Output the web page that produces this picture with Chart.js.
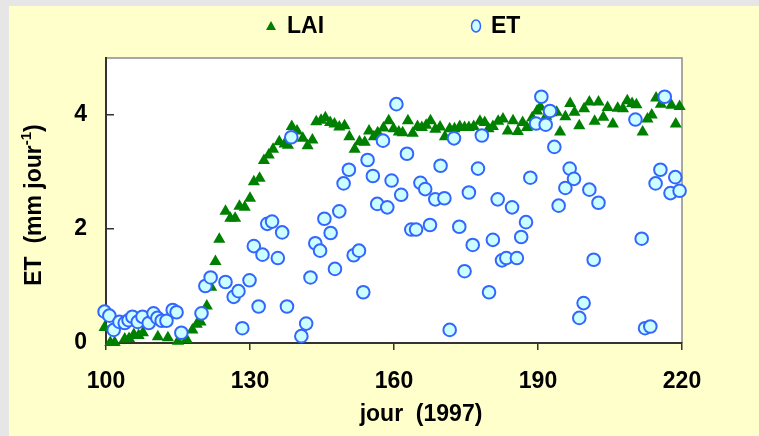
<!DOCTYPE html>
<html>
<head>
<meta charset="utf-8">
<script src="https://cdn.jsdelivr.net/npm/chart.js@4.4.1/dist/chart.umd.min.js"></script>
<style>
  html, body { margin: 0; padding: 0; background: #e6e6e6; }
  #box { position: absolute; left: 9px; top: 6px; width: 750px; height: 430px; background: #ffffcc; }
</style>
</head>
<body>
<div id="box"><canvas id="etChart"></canvas></div>
<script>
// jour (1997) et valeurs
const laiDays = [99.7, 100.9, 101.8, 103.9, 104.8, 105.8, 106.8, 107.7, 110.8, 112.9,
  115.0, 116.8, 118.0, 118.9, 119.7, 121.0, 121.9, 122.8, 123.6, 124.9,
  125.9, 126.9, 127.8, 128.9, 130.0, 130.8, 132.0, 132.9, 133.9, 134.8,
  136.1, 137.2, 137.9, 138.7, 139.8, 141.0, 142.0, 143.0, 143.8, 144.8,
  145.7, 146.7, 147.6, 148.6, 149.7, 150.7, 151.8, 152.8, 153.9, 154.8,
  155.8, 156.6, 157.8, 158.9, 159.9, 161.0, 161.8, 162.9, 163.9, 164.9,
  165.8, 166.7, 167.6, 168.6, 169.6, 170.6, 171.6, 172.6, 173.7, 174.7,
  175.6, 176.6, 177.9, 178.9, 179.7, 180.6, 181.7, 182.7, 183.7, 184.8,
  185.8, 186.8, 187.7, 188.8, 189.8, 190.5, 191.7, 192.8, 193.9, 194.6,
  195.7, 196.7, 197.6, 198.6, 199.6, 200.7, 201.8, 202.6, 203.6, 204.5,
  205.6, 206.6, 207.7, 208.6, 209.6, 210.5, 211.8, 212.8, 213.7, 214.6,
  215.6, 217.8, 218.7, 219.5];
const laiValues = [0.27, 0.01, 0.01, 0.07, 0.08, 0.15, 0.13, 0.18, 0.11, 0.09,
  0.03, 0.06, 0.23, 0.33, 0.37, 0.65, 0.98, 1.43, 1.82, 2.31,
  2.19, 2.19, 2.40, 2.38, 2.54, 2.83, 2.89, 3.20, 3.30, 3.40,
  3.53, 3.49, 3.47, 3.80, 3.72, 3.59, 3.46, 3.56, 3.88, 3.91,
  3.95, 3.87, 3.84, 3.79, 3.81, 3.62, 3.40, 3.53, 3.52, 3.72,
  3.62, 3.69, 3.77, 3.90, 3.76, 3.70, 3.69, 3.90, 3.68, 3.80,
  3.78, 3.82, 3.90, 3.75, 3.79, 3.62, 3.76, 3.76, 3.80, 3.78,
  3.78, 3.80, 3.89, 3.87, 3.76, 3.80, 3.89, 3.93, 3.72, 3.90,
  3.71, 3.87, 3.78, 3.95, 4.07, 4.14, 3.98, 4.04, 4.05, 3.70,
  3.97, 4.20, 4.05, 3.81, 4.11, 4.23, 3.89, 4.23, 3.96, 4.13,
  3.84, 4.12, 4.11, 4.25, 4.20, 4.18, 3.70, 3.93, 4.00, 4.30,
  4.19, 4.17, 3.84, 4.15];

const etDays = [99.7, 100.7, 101.6, 102.8, 103.9, 104.7, 105.5, 106.6, 107.6, 108.9,
  109.9, 110.7, 111.6, 112.6, 113.9, 114.7, 115.7, 119.9, 120.7, 121.8,
  124.9, 126.6, 127.6, 128.4, 129.9, 130.8, 131.8, 132.6, 133.6, 134.6,
  135.8, 136.7, 137.7, 138.6, 140.7, 141.7, 142.6, 143.6, 144.6, 145.5,
  146.8, 147.7, 148.6, 149.5, 150.6, 151.6, 152.7, 153.6, 154.5, 155.6,
  156.5, 157.7, 158.6, 159.5, 160.5, 161.5, 162.7, 163.6, 164.6, 165.5,
  166.5, 167.5, 168.6, 169.7, 170.5, 171.6, 172.5, 173.6, 174.7, 175.6,
  176.4, 177.5, 178.3, 179.8, 180.6, 181.6, 182.5, 183.4, 184.6, 185.6,
  186.5, 187.5, 188.4, 189.6, 190.7, 191.6, 192.5, 193.4, 194.3, 195.7,
  196.6, 197.5, 198.6, 199.5, 200.7, 201.6, 202.6, 210.3, 211.6, 212.3,
  213.4, 214.5, 215.5, 216.4, 217.6, 218.6, 219.5];
const etValues = [0.55, 0.48, 0.23, 0.37, 0.35, 0.40, 0.46, 0.37, 0.46, 0.35,
  0.52, 0.44, 0.39, 0.39, 0.58, 0.54, 0.18, 0.52, 1.00, 1.15,
  1.07, 0.81, 0.91, 0.26, 1.10, 1.70, 0.64, 1.55, 2.09, 2.13,
  1.49, 1.94, 0.64, 3.61, 0.12, 0.34, 1.15, 1.75, 1.62, 2.18,
  1.93, 1.30, 2.31, 2.80, 3.04, 1.54, 1.62, 0.89, 3.21, 2.93,
  2.44, 3.55, 2.38, 2.85, 4.19, 2.60, 3.32, 1.99, 1.99, 2.81,
  2.70, 2.07, 2.52, 3.11, 2.54, 0.23, 3.59, 2.04, 1.26, 2.64,
  1.72, 3.06, 3.64, 0.89, 1.81, 2.52, 1.45, 1.49, 2.38, 1.49,
  1.86, 2.12, 2.90, 3.85, 4.32, 3.83, 4.07, 3.44, 2.41, 2.72,
  3.06, 2.88, 0.44, 0.70, 2.69, 1.46, 2.46, 3.92, 1.83, 0.26,
  0.29, 2.80, 3.04, 4.32, 2.63, 2.91, 2.67];

const xTicks = [100, 130, 160, 190, 220];
const yTicks = [0, 2, 4];

const FONT = '"Liberation Sans", Arial, sans-serif';
const FS = 23;
const GREEN = '#008000';
const ET_FILL = '#ccffff';
const ET_LINE = '#3366ff';

function toPoints(days, vals) {
    return days.map((d, i) => ({ x: d, y: vals[i] }));
}

// fond blanc + cadre gris de la zone de tracé
const plotFrame = {
    id: 'plotFrame',
    beforeDraw(chart) {
        const a = chart.chartArea;
        const ctx = chart.ctx;
        ctx.save();
        ctx.fillStyle = '#ffffff';
        ctx.fillRect(a.left, a.top, a.right - a.left, a.bottom - a.top);
        ctx.strokeStyle = '#8c8c8c';
        ctx.lineWidth = 1.5;
        ctx.beginPath();
        ctx.moveTo(a.left, a.top);
        ctx.lineTo(a.right, a.top);
        ctx.lineTo(a.right, a.bottom);
        ctx.stroke();
        ctx.restore();
    }
};

// titres des axes et légende
const labels = {
    id: 'labels',
    afterDraw(chart) {
        const ctx = chart.ctx;
        ctx.save();
        ctx.fillStyle = '#000';
        ctx.textBaseline = 'middle';

        // titre x
        ctx.font = 'bold ' + FS + 'px ' + FONT;
        ctx.textAlign = 'center';
        ctx.fillText('jour  (1997)', 412, 409);

        // titre y avec exposant
        ctx.translate(26, 199);
        ctx.rotate(-Math.PI / 2);
        const main = 'ET  (mm jour';
        const sup = '-1';
        const end = ')';
        ctx.font = 'bold ' + FS + 'px ' + FONT;
        const w1 = ctx.measureText(main).width;
        const w3 = ctx.measureText(end).width;
        ctx.font = 'bold 15px ' + FONT;
        const w2 = ctx.measureText(sup).width;
        let x = -(w1 + w2 + w3) / 2;
        ctx.textAlign = 'left';
        ctx.font = 'bold ' + FS + 'px ' + FONT;
        ctx.fillText(main, x, 0);
        x += w1;
        ctx.font = 'bold 15px ' + FONT;
        ctx.fillText(sup, x, -8);
        x += w2;
        ctx.font = 'bold ' + FS + 'px ' + FONT;
        ctx.fillText(end, x, 0);
        ctx.restore();

        // légende
        ctx.save();
        ctx.fillStyle = GREEN;
        ctx.beginPath();
        ctx.moveTo(262, 15);
        ctx.lineTo(267, 24);
        ctx.lineTo(257, 24);
        ctx.closePath();
        ctx.fill();

        ctx.beginPath();
        ctx.ellipse(467, 20, 4.5, 6, 0, 0, Math.PI * 2);
        ctx.fillStyle = ET_FILL;
        ctx.fill();
        ctx.strokeStyle = ET_LINE;
        ctx.lineWidth = 1.5;
        ctx.stroke();

        ctx.fillStyle = '#000';
        ctx.font = 'bold ' + FS + 'px ' + FONT;
        ctx.textAlign = 'left';
        ctx.textBaseline = 'middle';
        ctx.fillText('LAI', 278, 21);
        ctx.fillText('ET', 482, 21);
        ctx.restore();
    }
};

const ctx = document.getElementById('etChart').getContext('2d');
window.etChartInstance = new Chart(ctx, {
    type: 'scatter',
    data: {
        datasets: [
            {
                label: 'ET',
                data: toPoints(etDays, etValues),
                pointStyle: 'circle',
                pointRadius: 6.3,
                pointHoverRadius: 6.3,
                backgroundColor: ET_FILL,
                borderColor: ET_LINE,
                borderWidth: 2,
                clip: false
            },
            {
                label: 'LAI',
                data: toPoints(laiDays, laiValues),
                pointStyle: 'triangle',
                pointRadius: 7,
                pointHoverRadius: 7,
                backgroundColor: GREEN,
                borderColor: GREEN,
                borderWidth: 0,
                clip: false
            }
        ]
    },
    options: {
        responsive: true,
        maintainAspectRatio: false,
        animation: false,
        events: [],
        layout: { padding: { left: 0, top: 52, right: 77, bottom: 0 } },
        plugins: {
            legend: { display: false },
            tooltip: { enabled: false }
        },
        scales: {
            x: {
                type: 'linear',
                min: 100,
                max: 220,
                afterFit: s => { s.height = 93; },
                afterBuildTicks: s => { s.ticks = xTicks.map(v => ({ value: v })); },
                grid: { drawOnChartArea: false, drawTicks: true, tickLength: 7, color: '#333', lineWidth: 1.5 },
                border: { display: true, color: '#333', width: 2 },
                ticks: { color: '#000', padding: 18, font: { family: FONT, size: FS, weight: 'bold' }, maxRotation: 0 }
            },
            y: {
                type: 'linear',
                min: 0,
                max: 5,
                afterFit: s => { s.width = 97; },
                afterBuildTicks: s => { s.ticks = yTicks.map(v => ({ value: v })); },
                grid: { drawOnChartArea: false, drawTicks: true, tickLength: -8, color: '#333', lineWidth: 1.5 },
                border: { display: true, color: '#333', width: 2 },
                ticks: { color: '#000', padding: 27, font: { family: FONT, size: FS, weight: 'bold' } }
            }
        }
    },
    plugins: [plotFrame, labels]
});
</script>
</body>
</html>
